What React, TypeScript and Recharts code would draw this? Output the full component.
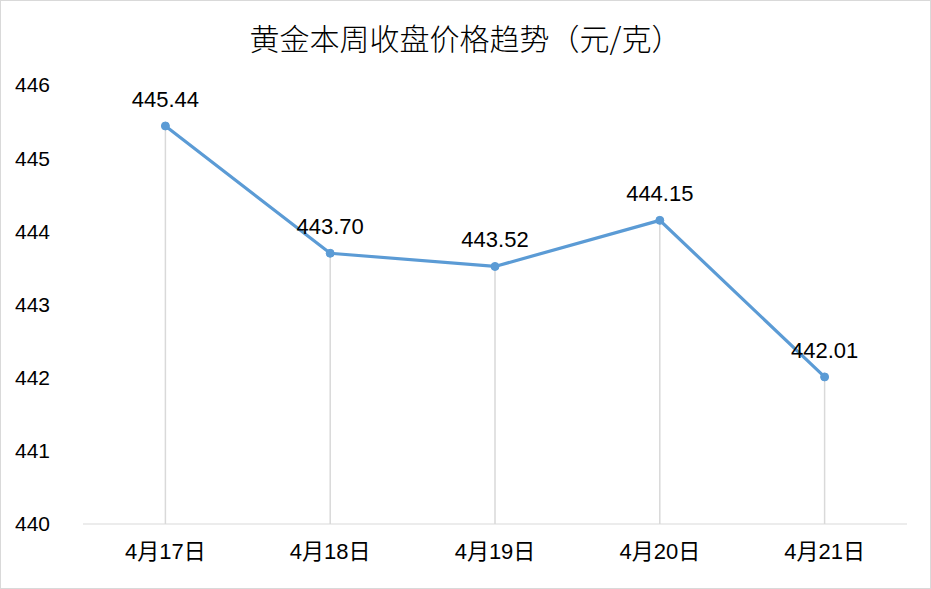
import { LabelList, Line, LineChart, ReferenceLine, XAxis, YAxis } from 'recharts';

const dates = ['4月17日', '4月18日', '4月19日', '4月20日', '4月21日'];
const prices = [445.44, 443.7, 443.52, 444.15, 442.01];
const yTicks = [440, 441, 442, 443, 444, 445, 446];

const TITLE = '黄金本周收盘价格趋势（元/克）';
const FONT = '"Liberation Sans", "Noto Sans CJK SC", sans-serif';

const chartData = dates.map((date, i) => ({ date, price: prices[i] }));

export default function App() {
  return (
    <div
      style={{
        position: 'absolute',
        left: 0,
        top: 0,
        width: 931,
        height: 589,
        boxSizing: 'border-box',
        border: '1px solid #d9d9d9',
        background: '#fff',
        fontFamily: FONT,
      }}
    >
      <div
        style={{
          position: 'absolute',
          top: 14,
          left: 0,
          width: '100%',
          textAlign: 'center',
          fontSize: 30,
          fontWeight: 300,
          color: '#000',
          fontFamily: '"Noto Sans CJK SC", sans-serif',
        }}
      >
        {TITLE}
      </div>
      <div style={{ position: 'absolute', left: -1, top: -1 }}>
        <LineChart
          width={931}
          height={589}
          data={chartData}
          margin={{ top: 85, right: 24, left: 0, bottom: 35 }}
        >
          <XAxis
            dataKey="date"
            scale="band"
            height={30}
            tickLine={false}
            tickSize={0}
            tickMargin={19}
            axisLine={{ stroke: '#d9d9d9', strokeWidth: 1 }}
            tick={{ fontSize: 22, fill: '#000', fontFamily: FONT }}
          />
          <YAxis
            domain={[440, 446]}
            ticks={yTicks}
            width={83}
            axisLine={false}
            tickLine={false}
            tickSize={0}
            tickMargin={33}
            tick={{ fontSize: 21, fill: '#000', fontFamily: FONT }}
          />
          {chartData.map((d) => (
            <ReferenceLine
              key={d.date}
              segment={[
                { x: d.date, y: 440 },
                { x: d.date, y: d.price },
              ]}
              stroke="#d9d9d9"
              strokeWidth={1.5}
            />
          ))}
          <Line
            type="linear"
            dataKey="price"
            stroke="#5b9bd5"
            strokeWidth={3.2}
            dot={{ r: 4, fill: '#5b9bd5', stroke: '#5b9bd5', strokeWidth: 1 }}
            isAnimationActive={false}
          >
            <LabelList
              dataKey="price"
              position="top"
              offset={19}
              formatter={(v: number) => v.toFixed(2)}
              style={{ fontSize: 22, fill: '#000', fontFamily: FONT }}
            />
          </Line>
        </LineChart>
      </div>
    </div>
  );
}
